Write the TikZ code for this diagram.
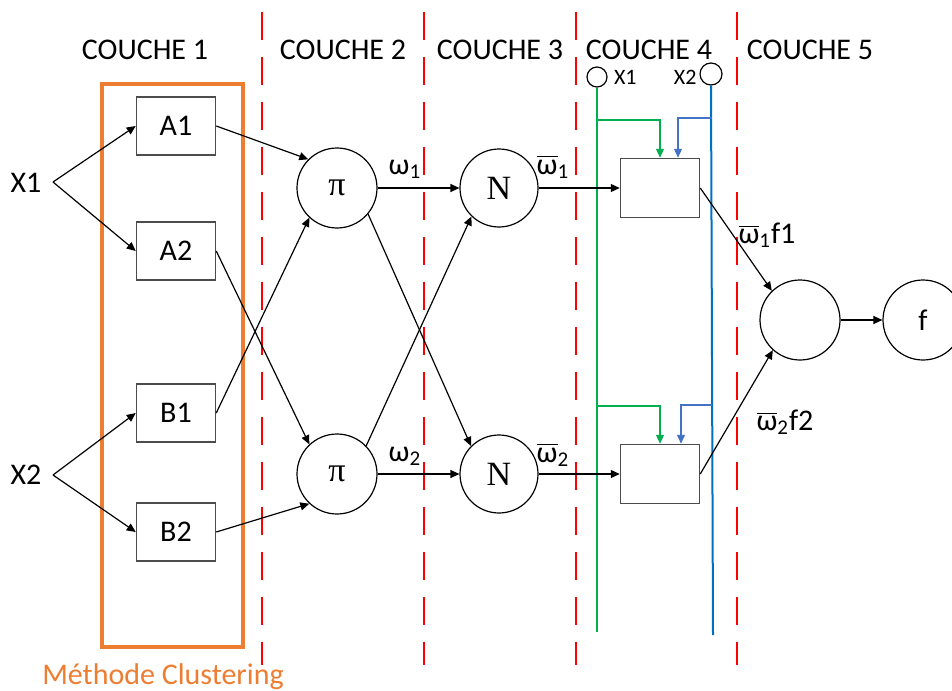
\documentclass[tikz,border=0pt]{standalone}
\usepackage{fontspec}
\setmainfont{Carlito}
\newfontfamily\timesfont{Liberation Serif}
\usetikzlibrary{arrows.meta,positioning}
\definecolor{orangeclust}{RGB}{237,125,49}
\definecolor{vertx}{RGB}{0,176,80}
\definecolor{bleux}{RGB}{0,112,192}
\definecolor{bleuclair}{RGB}{68,114,196}
\definecolor{rouge}{RGB}{255,0,0}
\newcommand{\wb}{\ensuremath{\overline{\mbox{ω}}}}

\begin{document}
\begin{tikzpicture}[x=0.5pt, y=-0.5pt, font=\fontsize{15}{18}\selectfont,
    >={Triangle[length=4.5pt,width=4pt]},
    fl/.style={->, line width=0.6pt},
    b/.style={rectangle, draw=black!70, line width=0.75pt, minimum width=39.5pt,
              minimum height=29pt, inner sep=0pt},
    c/.style={circle, draw, line width=0.6pt, minimum size=40pt, inner sep=0pt},
    op/.style={font=\timesfont\fontsize{17}{19}\selectfont},
    px/.style={font=\fontsize{11}{13}\selectfont, inner sep=0.5pt},
    sep/.style={rouge, line width=1pt, dash pattern=on 14pt off 8.5pt}]
\useasboundingbox (0,0) rectangle (952,690);

% titres et separateurs
\foreach \t/\x in {1/145,2/343,3/500,4/649,5/810}
  \node[inner sep=1pt] (t\t) at (\x,50) {COUCHE \t};
\foreach \x in {262,424,576,737}
  \draw[sep] (\x,12) -- (\x,665);

% COUCHE 1
\draw[orangeclust, line width=2pt] (102,84) rectangle (243,647);
\node[orangeclust] (meth) at (163,677) {Méthode Clustering};
\node[b] (a1) at (176,126) {A1};
\node[b] (a2) at (176,251) {A2};
\node[b] (b1) at (176,413) {B1};
\node[b] (b2) at (176,532) {B2};
\node (x1) at (26,183) {X1};
\node (x2) at (26,475) {X2};
\coordinate (f1) at (53,182);
\coordinate (f2) at (53,475);
\draw[fl] (f1) -- (a1.west);
\draw[fl] (f1) -- (a2.west);
\draw[fl] (f2) -- (b1.west);
\draw[fl] (f2) -- (b2.west);

% COUCHE 2
\node[c, op] (pi1) at (337,188) {π};
\node[c, op] (pi2) at (337,474) {π};
\draw[fl] (a1.east) -- (pi1.135);
\draw[fl] (b1.east) -- (pi1.227);
\draw[fl] (a2.east) -- (pi2.133);
\draw[fl] (b2.east) -- (pi2.227);

% COUCHE 3
\node[c, op, minimum size=39pt] (n1) at (499,188) {N};
\node[c, op, minimum size=39pt] (n2) at (499,474) {N};
\draw[fl] (pi1.east) -- (n1.west);
\draw[fl] (pi1.-40) -- (n2.135);
\draw[fl] (pi2.44) -- (n1.226);
\draw[fl] (pi2.east) -- (n2.west);
\node (w1) at (405,169) {ω\textsubscript{1}};
\node (w2) at (405,456) {ω\textsubscript{2}};
\node (wb1) at (553,167) {\wb\textsubscript{1}};
\node (wb2) at (553,455) {\wb\textsubscript{2}};

% COUCHE 4
\node[circle, draw, line width=0.6pt, minimum size=10pt, inner sep=0pt] (cx1) at (597,77) {};
\node[circle, draw, line width=0.6pt, minimum size=11pt, inner sep=0pt] (cx2) at (711,74) {};
\node[px, right=2.5pt of cx1] (lx1) {X1};
\node[px, left=0.8pt of cx2, yshift=-1.5pt] (lx2) {X2};
\coordinate (gbas) at (597,632);
\coordinate (bbas) at (713,635);
\draw[vertx, line width=1pt] (cx1.south) -- (gbas);
\draw[bleux, line width=1pt] (cx2.south) -- (bbas);
\node[b, minimum height=29.5pt] (r1) at (660,188) {};
\node[b, minimum height=29.5pt] (r2) at (660,474) {};
\coordinate (g1) at (597,120);
\coordinate (g2) at (597,406);
\coordinate (h1) at (712,118);
\coordinate (h2) at (712,405);
\draw[vertx, line width=0.6pt, ->] (g1) -| (r1.north);
\draw[bleuclair, line width=0.6pt, ->] (h1) -| ([xshift=9pt]r1.north);
\draw[vertx, line width=0.6pt, ->] (g2) -| (r2.north);
\draw[bleuclair, line width=0.6pt, ->] (h2) -| ([xshift=10.5pt]r2.north);
\draw[fl] (n1.east) -- (r1.west);
\draw[fl] (n2.east) -- (r2.west);

% COUCHE 5
\node[c] (s) at (800,320) {};
\node[c] (f) at (923,320) {f};
\draw[fl] (r1.east) -- (s.134);
\draw[fl] (r2.east) -- (s.228);
\draw[fl] (s) -- (f);
\node (wf1) at (767,235) {\wb\textsubscript{1}f1};
\node (wf2) at (785,422) {\wb\textsubscript{2}f2};
\end{tikzpicture}
\end{document}
